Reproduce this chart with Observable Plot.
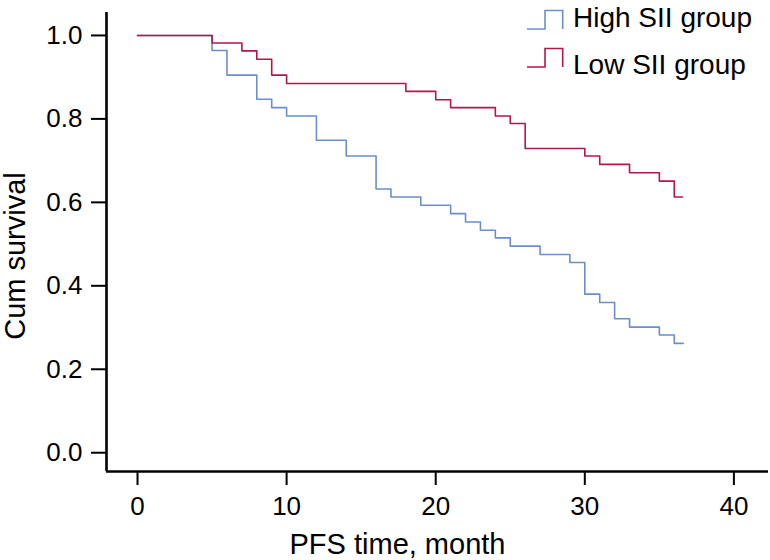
<!DOCTYPE html>
<html><head><meta charset="utf-8">
<script src="https://cdn.jsdelivr.net/npm/d3@7"></script>
<script src="https://cdn.jsdelivr.net/npm/@observablehq/plot@0.6"></script>
<style>
body{margin:0;background:#fff;}
#wrap{position:relative;width:770px;height:560px;font-family:"Liberation Sans",Arial,Helvetica,sans-serif;}
</style></head><body><div id="wrap"></div>
<script>
const groups = ["High SII group", "Low SII group"];
const colors = ["#6b8fcb", "#b01848"];
const highTimes = [0, 5, 6, 8, 9, 10, 12, 14, 16, 17, 19, 21, 22, 23, 24, 25, 27, 29, 30, 31, 32, 33, 35, 36, 36.6];
const highSurv  = [1.0, 0.964, 0.905, 0.847, 0.827, 0.807, 0.749, 0.711, 0.632, 0.613, 0.593, 0.573, 0.553, 0.533, 0.515, 0.495, 0.475, 0.456, 0.380, 0.360, 0.321, 0.301, 0.282, 0.262, 0.262];
const lowTimes  = [0, 5, 7, 8, 9, 10, 18, 20, 21, 24, 25, 26, 30, 31, 33, 35, 36, 36.55];
const lowSurv   = [1.0, 0.982, 0.963, 0.943, 0.905, 0.885, 0.866, 0.846, 0.827, 0.807, 0.789, 0.729, 0.711, 0.691, 0.671, 0.651, 0.613, 0.613];
const xTicks = [0, 10, 20, 30, 40];
const yTicks = [0, 0.2, 0.4, 0.6, 0.8, 1.0];
const xTitle = "PFS time, month";
const yTitle = "Cum survival";
const xDomain = [-2.08, 42.32];
const yDomain = [-0.045, 1.055];

const rows = [
  ...highTimes.map((t, i) => ({group: groups[0], time: t, surv: highSurv[i]})),
  ...lowTimes.map((t, i) => ({group: groups[1], time: t, surv: lowSurv[i]}))
];

const chart = Plot.plot({
  width: 770, height: 560,
  marginLeft: 106, marginRight: 2, marginTop: 12, marginBottom: 89,
  style: {fontFamily: "Liberation Sans, Arial, sans-serif", fontSize: "26px", color: "#000", background: "#fff", overflow: "visible"},
  x: {domain: xDomain, ticks: xTicks, tickSize: 14, tickPadding: 11, label: null},
  y: {domain: yDomain, ticks: yTicks, tickSize: 15, tickPadding: 9, tickFormat: d3.format(".1f"), label: null},
  color: {domain: groups, range: colors},
  marks: [
    Plot.ruleX([xDomain[0]], {stroke: "#000", strokeWidth: 2.6}),
    Plot.ruleY([yDomain[0]], {stroke: "#000", strokeWidth: 2.6}),
    Plot.line(rows, {x: "time", y: "surv", z: "group", stroke: "group", curve: "step-after", strokeWidth: 1.6}),
    Plot.text([xTitle], {text: d => d, frameAnchor: "bottom", textAnchor: "middle", lineAnchor: "middle", dx: -40, dy: 73, fontSize: 29, fill: "#000"}),
    Plot.text([yTitle], {text: d => d, frameAnchor: "left", textAnchor: "middle", lineAnchor: "middle", rotate: -90, dx: -91, dy: 14, fontSize: 29, fill: "#000"})
  ]
});

const sel = d3.select(chart);
sel.selectAll('g[aria-label^="x-axis"], g[aria-label^="y-axis"]').attr("stroke-width", 2).attr("font-size", 26);
sel.selectAll('g[aria-label^="x-axis"] line, g[aria-label^="y-axis"] line, g[aria-label^="x-axis"] path, g[aria-label^="y-axis"] path').attr("stroke-width", 2);

const wrap = document.getElementById("wrap");
wrap.appendChild(chart);

// legend overlay
const leg = d3.create("svg").attr("width", 770).attr("height", 90)
  .style("position", "absolute").style("left", "0px").style("top", "0px");
const glyphTops = [10.5, 48.5];
const textBase = [27, 73.5];
groups.forEach((g, i) => {
  const t = glyphTops[i], b = t + 18.5;
  leg.append("path").attr("d", `M527,${b}H545V${t}H562.7V${b}`)
    .attr("fill", "none").attr("stroke", colors[i]).attr("stroke-width", 1.6);
  leg.append("text").attr("x", 573).attr("y", textBase[i]).text(g)
    .attr("font-family", "Liberation Sans, Arial, sans-serif").attr("font-size", 28).attr("fill", "#000");
});
wrap.appendChild(leg.node());
</script>
</body></html>
